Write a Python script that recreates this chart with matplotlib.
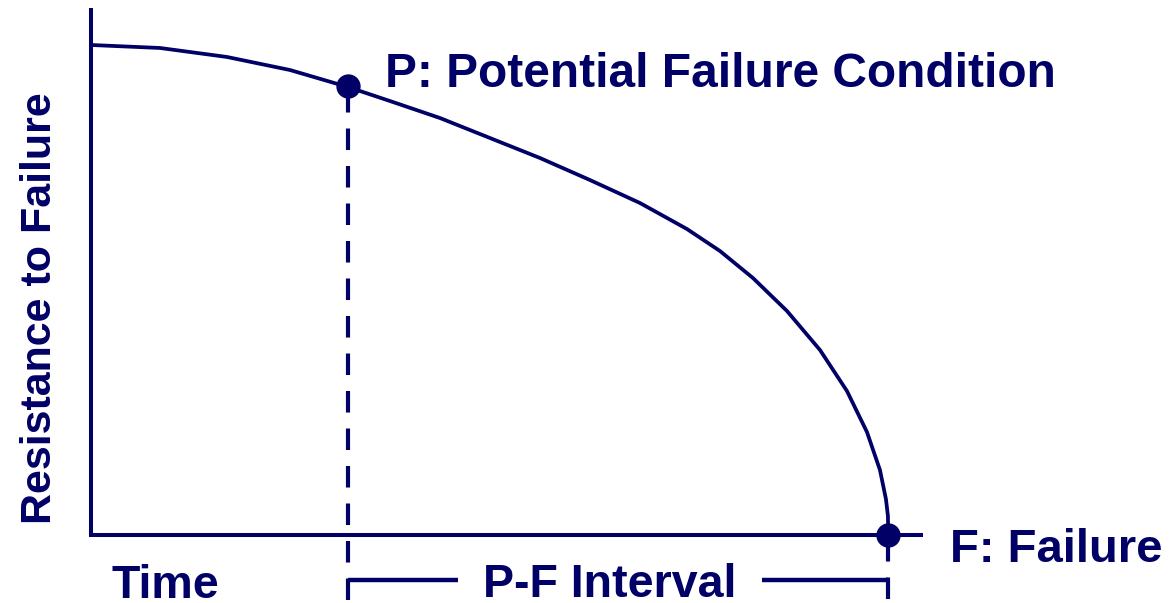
import matplotlib
matplotlib.use("Agg")
import matplotlib.pyplot as plt

# ---- data (time %, resistance %) ----
curve_time = [0, 8.65, 17.06, 24.96, 32.23, 37.49, 43.76, 50.04, 56.31, 62.58,
              68.86, 74.75, 78.89, 83.03, 87.30, 91.44, 94.82, 97.33, 98.96,
              99.71, 99.96, 100]
curve_resist = [100, 99.39, 97.55, 94.89, 91.42, 88.56, 85.09, 81.00, 76.92, 72.42,
                67.72, 62.41, 57.92, 52.40, 45.66, 37.69, 29.32, 20.94, 13.18,
                7.25, 3.78, 0]
p_point = (32.2, 91.6)
f_point = (100.0, 0.0)

label_p = "P: Potential Failure Condition"
label_f = "F: Failure"
label_x = "Time"
label_y = "Resistance to Failure"
label_pf = "P-F Interval"

NAVY = "#000066"
plt.rcParams["lines.scale_dashes"] = False
FONT = ["Liberation Sans", "DejaVu Sans"]

fig = plt.figure(figsize=(11.70, 6.03), dpi=100)
ax = fig.add_axes([0, 0, 1, 1])
ax.set_xlim(-11.41, 135.34)
ax.set_ylim(-13.99, 109.19)
ax.axis("off")

# axes lines
ax.plot([0, 0], [0, 107.6], color=NAVY, lw=2.9, solid_capstyle="butt")
ax.plot([-0.2, 104.3], [0, 0], color=NAVY, lw=2.9, solid_capstyle="butt")

# curve
ax.plot(curve_time, curve_resist, color=NAVY, lw=2.7,
        solid_joinstyle="round", solid_capstyle="butt")

# dashed verticals
dash = (0, (15.5, 11.5))
ax.plot([p_point[0], p_point[0]], [90.7, -13.4], color=NAVY, lw=3.0,
        linestyle=dash, dash_capstyle="butt")
ax.plot([f_point[0], f_point[0]], [-1.2, -13.4], color=NAVY, lw=3.0,
        linestyle=dash, dash_capstyle="butt")

# P-F bracket
ax.plot([p_point[0], 46.0], [-9.3, -9.3], color=NAVY, lw=3.2, solid_capstyle="butt")
ax.plot([84.2, f_point[0]], [-9.3, -9.3], color=NAVY, lw=3.2, solid_capstyle="butt")

# markers
ax.plot([p_point[0], f_point[0]], [p_point[1], f_point[1]], "o", color=NAVY,
        markersize=16.5, zorder=5)

# texts
tk = dict(color=NAVY, fontweight="bold", family=FONT)
ax.text(36.9, 91.4, label_p, fontsize=34.5, ha="left", va="baseline", **tk)
ax.text(107.8, -5.6, label_f, fontsize=34, ha="left", va="baseline", **tk)
ax.text(2.6, -13.0, label_x, fontsize=33.5, ha="left", va="baseline", **tk)
ax.text(49.2, -12.8, label_pf, fontsize=33.5, ha="left", va="baseline", **tk)
ax.text(-6.4, 46.3, label_y, fontsize=31, ha="center", va="center",
        rotation=90, **tk)

fig.savefig("out.png", dpi=100, facecolor="white")
